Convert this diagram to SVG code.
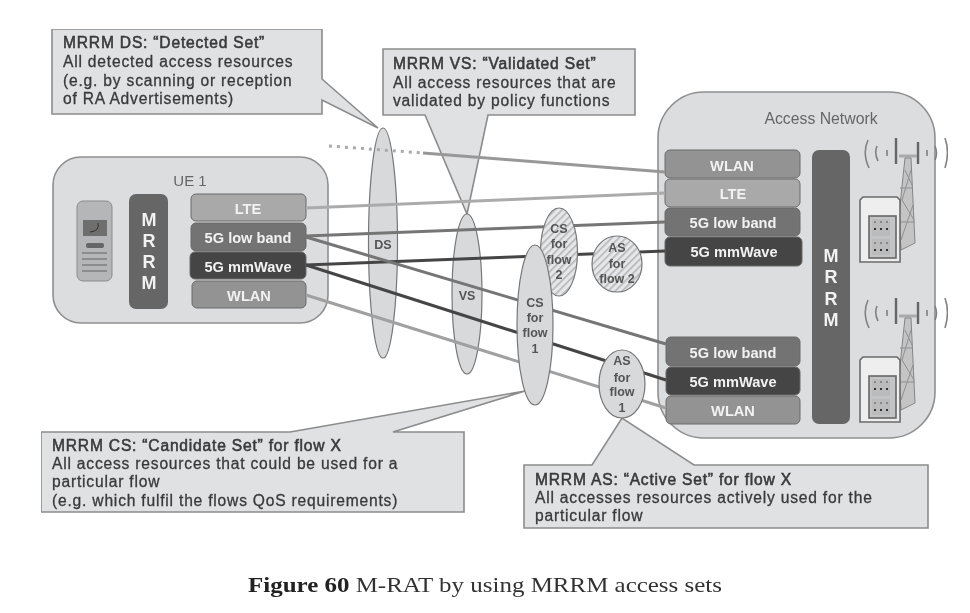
<svg xmlns="http://www.w3.org/2000/svg" xmlns:xlink="http://www.w3.org/1999/xlink" width="970" height="613" viewBox="0 0 970 613">
<style>
text{font-family:"Liberation Sans",Arial,sans-serif}
.call{fill:#e0e1e3;stroke:#8c8c8c;stroke-width:1.6;stroke-linejoin:miter}
.ct{font-size:15.6px;letter-spacing:.8px;fill:#3a3a3a;stroke:#3a3a3a;stroke-width:.3}
.ch{stroke-width:.55}
.pan{fill:#dcdddf;stroke:#8f8f8f;stroke-width:1.6}
.box{stroke:#6a6a6a;stroke-width:1}
.bt{font-size:14.6px;font-weight:700;fill:#f2f2f2;text-anchor:middle}
.lte{fill:#a9a9a9}.low{fill:#737373}.mm{fill:#454545}.wl{fill:#939393}
.mr{fill:#666}
.mt{font-size:18px;font-weight:700;fill:#f2f2f2;text-anchor:middle}
.el{fill:#d8d9db;stroke:#777;stroke-width:1.2}
.ha{fill:url(#hatch);stroke:#777;stroke-width:1.2}
.et{font-size:12.5px;font-weight:700;fill:#555;text-anchor:middle}
.con{fill:none;stroke-width:3}
.ant{fill:none;stroke:#808080;stroke-width:1.6}
</style>
<defs>
<filter id="soft" x="0" y="0" width="100%" height="100%"><feGaussianBlur stdDeviation="0.45"/></filter>
<pattern id="hatch" width="5" height="5" patternUnits="userSpaceOnUse" patternTransform="rotate(-45)">
<rect width="5" height="5" fill="#e6e7e8"/><rect width="5" height="1.6" fill="#b4b5b7"/>
</pattern>
<g id="station">
<path class="ant" d="M868 140Q862 153 869 168M877 146Q874 153 878 161M887 150V156M945 138Q950 152 945 168M935 146Q938 153 935 160M927 150V156"/>
<path d="M896 138V164M918 142V164" stroke="#666" stroke-width="2.4" fill="none"/>
<path d="M899 156H917" stroke="#aaa" stroke-width="3"/>
<path d="M905 158L911 158L915 243L901 250L899 215Z" fill="#c4c4c4" stroke="#858585" stroke-width="1"/>
<path d="M905 170L912 185M911 170L902 200M902 200L914 220M913 205L901 240M900 188H913M900 222H915" stroke="#8f8f8f" stroke-width="1" fill="none"/>
<path d="M860 200L863 197H897L900 200V262H860Z" fill="#eeeeef" stroke="#6b6b6b" stroke-width="1.6"/>
<rect x="869" y="216" width="27" height="42" fill="#c3c4c6" stroke="#666" stroke-width="1.6"/>
<rect x="872" y="219" width="18" height="17" fill="#bbb"/><rect x="872" y="239" width="18" height="16" fill="#bbb"/>
<path d="M874 229h2M880 229h2M886 229h2M874 250h2M880 250h2M886 250h2" stroke="#333" stroke-width="2"/>
<path d="M874 222h2M880 222h2M886 222h2M874 243h2M880 243h2M886 243h2" stroke="#888" stroke-width="2"/>
</g>
</defs>
<rect width="970" height="613" fill="#fff"/>
<g id="diagram" filter="url(#soft)">
<g id="callout-ds">
<path class="call" d="M52 29H322V79L378 128L322 100V114H52Z"/>
<text class="ct ch" x="63" y="48">MRRM DS: “Detected Set”</text>
<text class="ct" x="63" y="67">All detected access resources</text>
<text class="ct" x="63" y="86">(e.g. by scanning or reception</text>
<text class="ct" x="63" y="104">of RA Advertisements)</text>
</g>
<g id="callout-vs">
<path class="call" d="M383 49H635V115H488L467 214L425 115H383Z"/>
<text class="ct ch" x="393" y="69">MRRM VS: “Validated Set”</text>
<text class="ct" x="393" y="88">All access resources that are</text>
<text class="ct" x="393" y="106">validated by policy functions</text>
</g>
<g id="ue">
<rect class="pan" x="53" y="157" width="275" height="166" rx="28"/>
<text x="190" y="186" font-size="15" fill="#666" text-anchor="middle">UE 1</text>
<g id="phone">
<rect x="77" y="201" width="35" height="80" rx="6" fill="#b5b6b8" stroke="#8b8b8b"/>
<rect x="83" y="220" width="24" height="16" fill="#6e6e6e"/>
<path d="M90 232Q100 231 98 223" stroke="#333" fill="none"/>
<rect x="86" y="243" width="18" height="5" rx="2" fill="#666"/>
<path d="M82 253H107M82 259H107M82 265H107M82 271H107" stroke="#8c8c8c" stroke-width="2"/>
</g>
<rect class="mr" x="129" y="194" width="39" height="115" rx="7"/>
<text class="mt"><tspan x="149" y="226">M</tspan><tspan x="149" y="247">R</tspan><tspan x="149" y="268">R</tspan><tspan x="149" y="289">M</tspan></text>
<rect class="box lte" x="191" y="194" width="115" height="27" rx="5"/><text class="bt" x="248" y="214">LTE</text>
<rect class="box low" x="191" y="223" width="115" height="28" rx="5"/><text class="bt" x="248" y="243">5G low band</text>
<rect class="box mm" x="190" y="252" width="116" height="27" rx="5"/><text class="bt" x="248" y="272">5G mmWave</text>
<rect class="box wl" x="192" y="281" width="114" height="27" rx="5"/><text class="bt" x="249" y="301">WLAN</text>
</g>
<g id="access-network">
<rect class="pan" x="658" y="92" width="277" height="346" rx="46"/>
<text x="821" y="124" font-size="15.800" fill="#666" text-anchor="middle">Access Network</text>
<rect class="box wl" x="665" y="150" width="135" height="28" rx="5"/><text class="bt" x="732" y="171">WLAN</text>
<rect class="box lte" x="665" y="179" width="135" height="28" rx="5"/><text class="bt" x="733" y="199">LTE</text>
<rect class="box low" x="665" y="208" width="135" height="28" rx="5"/><text class="bt" x="733" y="228">5G low band</text>
<rect class="box mm" x="665" y="237" width="137" height="29" rx="5"/><text class="bt" x="734" y="257">5G mmWave</text>
<rect class="mr" x="812" y="150" width="38" height="274" rx="7"/>
<text class="mt"><tspan x="831" y="262">M</tspan><tspan x="831" y="283">R</tspan><tspan x="831" y="305">R</tspan><tspan x="831" y="326">M</tspan></text>
<rect class="box low" x="666" y="337" width="134" height="29" rx="5"/><text class="bt" x="733" y="358">5G low band</text>
<rect class="box mm" x="666" y="367" width="134" height="28" rx="5"/><text class="bt" x="733" y="387">5G mmWave</text>
<rect class="box wl" x="666" y="396" width="134" height="28" rx="5"/><text class="bt" x="733" y="416">WLAN</text>
<use href="#station"/>
<use href="#station" y="160"/>
</g>
<g id="ds"><ellipse class="el" cx="383" cy="243" rx="14.500" ry="115"/><text class="et" x="383" y="249">DS</text></g>
<g id="vs"><ellipse class="el" cx="467" cy="294" rx="15" ry="80"/><text class="et" x="467" y="300">VS</text></g>
<g id="connectors">
<path d="M329 146L423 153" fill="none" stroke="#aaa" stroke-width="3" stroke-dasharray="3 5"/>
<path class="con" d="M423 153L665 172" stroke="#989898"/>
<path class="con" d="M306 208L665 193" stroke="#ababab"/>
<path class="con" d="M306 236L665 222" stroke="#757575"/>
<path class="con" d="M306 265L665 251" stroke="#454545"/>
<path class="con" d="M306 237L666 344" stroke="#757575"/>
<path class="con" d="M306 265L666 380" stroke="#454545"/>
<path class="con" d="M306 295L666 408" stroke="#a0a0a0"/>
</g>
<g id="cs2"><ellipse class="ha" cx="559" cy="252" rx="18.500" ry="44"/><text class="et"><tspan x="559" y="233">CS</tspan><tspan x="559" y="248">for</tspan><tspan x="559" y="264">flow</tspan><tspan x="559" y="279">2</tspan></text></g>
<g id="as2"><ellipse class="ha" cx="617" cy="264" rx="25" ry="28"/><text class="et"><tspan x="617" y="252">AS</tspan><tspan x="617" y="268">for</tspan><tspan x="617" y="283">flow 2</tspan></text></g>
<g id="callout-cs">
<path class="call" d="M41 432H290L525 391L393 432H464V512H41Z"/>
<text class="ct ch" x="52" y="451">MRRM CS: “Candidate Set” for flow X</text>
<text class="ct" x="52" y="469">All access resources that could be used for a</text>
<text class="ct" x="52" y="487">particular flow</text>
<text class="ct" x="52" y="506">(e.g. which fulfil the flows QoS requirements)</text>
</g>
<g id="cs1"><ellipse class="el" cx="535" cy="325" rx="18" ry="80"/><text class="et"><tspan x="535" y="307">CS</tspan><tspan x="535" y="322">for</tspan><tspan x="535" y="337">flow</tspan><tspan x="535" y="353">1</tspan></text></g>
<g id="callout-as">
<path class="call" d="M524 465H592L622 418L694 465H928V528H524Z"/>
<text class="ct ch" x="535" y="485">MRRM AS: “Active Set” for flow X</text>
<text class="ct" x="535" y="503">All accesses resources actively used for the</text>
<text class="ct" x="535" y="521">particular flow</text>
</g>
<g id="as1"><ellipse class="el" cx="622" cy="384" rx="23" ry="34"/><text class="et"><tspan x="622" y="365">AS</tspan><tspan x="622" y="382">for</tspan><tspan x="622" y="396">flow</tspan><tspan x="622" y="412">1</tspan></text></g>
<text x="248" y="592" font-size="22" textLength="474" lengthAdjust="spacingAndGlyphs" fill="#333" style="font-family:'Liberation Serif','Times New Roman',serif"><tspan font-weight="700" fill="#222">Figure 60</tspan> M-RAT by using MRRM access sets</text>
</g>
</svg>
